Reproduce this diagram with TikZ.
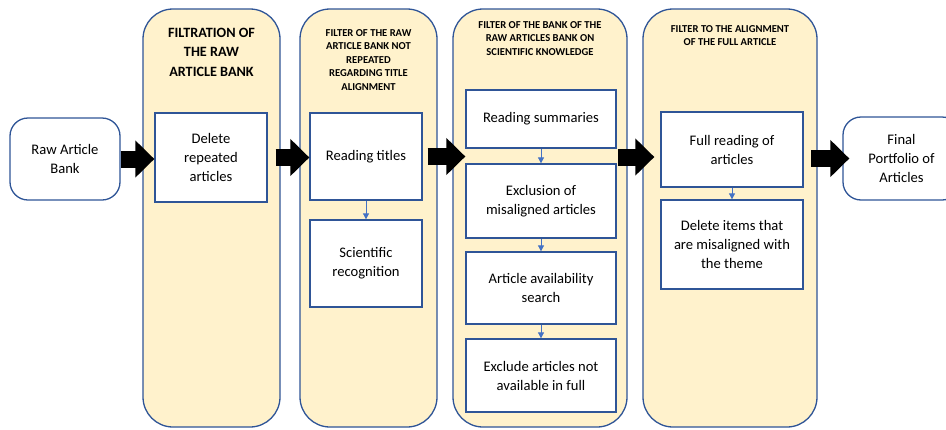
\documentclass[tikz,border=0pt]{standalone}
\usepackage{fontspec}
\setmainfont{Carlito}
\usetikzlibrary{arrows.meta}

\definecolor{panelfill}{HTML}{FFF2CC}
\definecolor{edgeblue}{HTML}{2F5597}
\definecolor{linkblue}{HTML}{4472C4}

\begin{document}
\begin{tikzpicture}[x=1pt,y=-1pt]
\tikzstyle{every node}+=[inner sep=0pt]
\tikzstyle{panel}=[draw=edgeblue, line width=1.3pt, fill=panelfill, rounded corners=30pt, minimum height=418pt]
\tikzstyle{task}=[draw=edgeblue, line width=1.3pt, fill=white, align=center, font=\fontsize{14.6}{19}\selectfont]
\tikzstyle{ends}=[task, rounded corners=18pt]
\tikzstyle{head}=[align=center, font=\bfseries\fontsize{10.6}{13.5}\selectfont]
\tikzstyle{bigarrow}=[draw=black, line width=17pt, -{Triangle[width=36pt,length=19pt]}]
\tikzstyle{link}=[draw=linkblue, line width=0.8pt, -{Triangle[width=6pt,length=6pt]}]
\useasboundingbox (0,0) rectangle (946,429);
\node [panel, minimum width=137pt] (p1) at (211.5,218) {};
\node [panel, minimum width=137pt] (p2) at (368.5,218) {};
\node [panel, minimum width=174pt] (p3) at (540,218) {};
\node [panel, minimum width=174pt] (p4) at (730,218) {};
\node [head, font=\bfseries\fontsize{14.2}{19.5}\selectfont] (h1) at (211.5,52) {FILTRATION OF\\THE RAW\\ARTICLE BANK};
\node [head] (h2) at (368.5,60) {FILTER OF THE RAW\\ARTICLE BANK NOT\\REPEATED\\REGARDING TITLE\\ALIGNMENT};
\node [head] (h3) at (540,38.5) {FILTER OF THE BANK OF THE\\RAW ARTICLES BANK ON\\SCIENTIFIC KNOWLEDGE};
\node [head] (h4) at (730,35.5) {FILTER TO THE ALIGNMENT\\OF THE FULL ARTICLE};
\node [ends, minimum width=110pt, minimum height=82pt] (raw) at (65,159) {Raw Article\\Bank};
\node [ends, minimum width=117pt, minimum height=83pt] (final) at (901.5,158.5) {Final\\Portfolio of\\Articles};
\node [task, minimum width=112pt, minimum height=89pt] (del) at (211,157.5) {Delete\\repeated\\articles};
\node [task, minimum width=112pt, minimum height=87pt] (titles) at (366,156.5) {Reading titles};
\node [task, minimum width=112pt, minimum height=87pt] (sci) at (366,263.5) {Scientific\\recognition};
\node [task, minimum width=150pt, minimum height=58pt] (summ) at (541,119) {Reading summaries};
\node [task, minimum width=150pt, minimum height=74pt] (excl) at (541,201) {Exclusion of\\misaligned articles};
\node [task, minimum width=150pt, minimum height=72pt] (avail) at (541,288) {Article availability\\search};
\node [task, minimum width=150pt, minimum height=73pt] (notfull) at (541,375.5) {Exclude articles not\\available in full};
\node [task, minimum width=142pt, minimum height=75pt] (fullread) at (732,149.5) {Full reading of\\articles};
\node [task, minimum width=142pt, minimum height=89pt] (items) at (732,244.5) {Delete items that\\are misaligned with\\the theme};
\draw [link] (titles.south) -- (sci.north);
\draw [link] (summ.south) -- (excl.north);
\draw [link] (excl.south) -- (avail.north);
\draw [link] (avail.south) -- (notfull.north);
\draw [link] (fullread.south) -- (items.north);
\coordinate (gap4) at (618,157);
\draw [bigarrow] (raw.east) -- (raw.east -| del.west);
\draw [bigarrow] ([xshift=8pt]del.east) -- (del.east -| titles.west);
\draw [bigarrow] ([xshift=5pt]titles.east) -- (titles.east -| summ.west);
\draw [bigarrow] (gap4) -- ([xshift=-6pt]gap4 -| fullread.west);
\draw [bigarrow] ([xshift=-31pt]final.west) -- ([xshift=7pt]final.west);
\end{tikzpicture}
\end{document}
